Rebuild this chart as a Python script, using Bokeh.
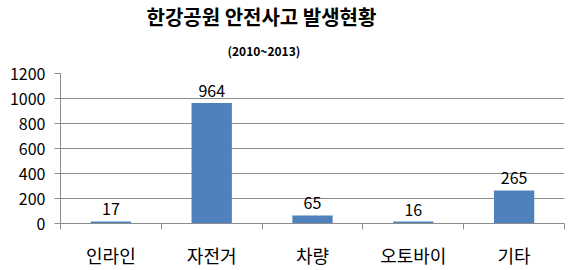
from bokeh.plotting import figure
from bokeh.models import Range1d, FixedTicker, Title
from bokeh.core.properties import value
from bokeh.embed import file_html
from bokeh.resources import INLINE

title_text = "한강공원 안전사고 발생현황"
subtitle_text = "(2010~2013)"
categories = ["인라인", "자전거", "차량", "오토바이", "기타"]
counts = [17, 964, 65, 16, 265]
y_ticks = [0, 200, 400, 600, 800, 1000, 1200]

FONT = "Noto Sans CJK KR"
BAR = "#4F81BD"
GRID = "#8C8C8C"

n = len(categories)
centers = [i + 0.5 for i in range(n)]

p = figure(width=580, height=270, output_backend="svg", toolbar_location=None,
           x_range=Range1d(0, n), y_range=Range1d(0, 1200),
           min_border_left=60, min_border_right=16, min_border_top=73, min_border_bottom=47)
p.outline_line_color = None
p.background_fill_color = "white"
p.border_fill_color = "white"

p.vbar(x=centers, top=counts, width=0.4, fill_color=BAR, line_color=None)
p.text(x=centers, y=counts, text=[str(c) for c in counts], y_offset=-6,
       text_align="center", text_baseline="bottom", text_font=value(FONT),
       text_font_size="16px", text_color="#000000")

xa = p.xaxis[0]
xa.ticker = FixedTicker(ticks=centers, minor_ticks=list(range(n + 1)))
xa.major_label_overrides = {c: lab for c, lab in zip(centers, categories)}
xa.major_tick_line_color = None
xa.major_tick_out = 0
xa.major_tick_in = 0
xa.minor_tick_out = 6
xa.minor_tick_in = 0
xa.minor_tick_line_color = GRID
xa.axis_line_color = GRID
xa.major_label_text_font = FONT
xa.major_label_text_font_size = "18px"
xa.major_label_text_color = "#000000"
xa.major_label_standoff = 12

ya = p.yaxis[0]
ya.ticker = FixedTicker(ticks=y_ticks)
ya.minor_tick_line_color = None
ya.major_tick_out = 6
ya.major_tick_in = 0
ya.major_tick_line_color = GRID
ya.axis_line_color = GRID
ya.major_label_text_font = FONT
ya.major_label_text_font_size = "16px"
ya.major_label_text_color = "#000000"
ya.major_label_standoff = 9

p.xgrid.grid_line_color = None
p.ygrid.ticker = FixedTicker(ticks=y_ticks)
p.ygrid.grid_line_color = GRID
p.ygrid.grid_line_width = 1

p.add_layout(Title(text=subtitle_text, align="left", offset=167, standoff=30,
                   text_font=FONT, text_font_size="12px", text_font_style="bold",
                   text_color="#000000"), "above")
p.add_layout(Title(text=title_text, align="left", offset=86, standoff=-12,
                   text_font=FONT, text_font_size="20px", text_font_style="bold",
                   text_color="#000000"), "above")

open("out.html", "w").write(file_html(p, INLINE))
